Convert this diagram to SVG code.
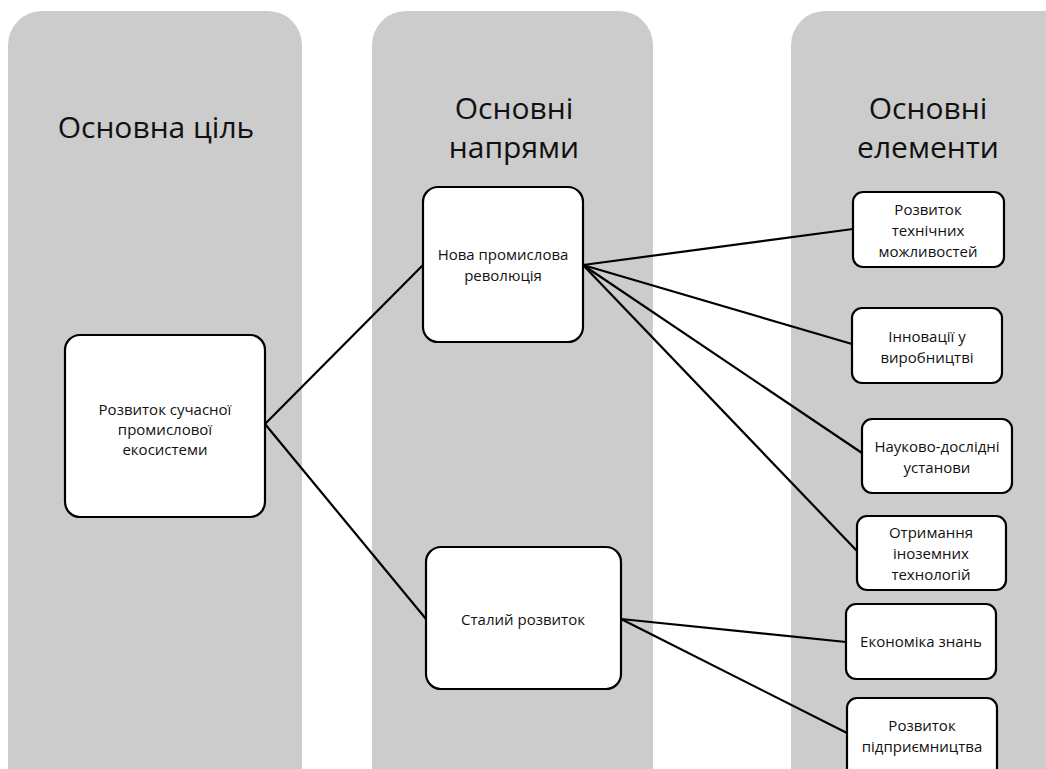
<svg xmlns="http://www.w3.org/2000/svg" width="1046" height="769" viewBox="0 0 1046 769">
<style>
.col{fill:#cccccc;stroke:none}
.hd{font-family:"Open Sans","Noto Sans",sans-serif;font-size:30px;fill:#111;text-anchor:middle}
.box{fill:#ffffff;stroke:#000;stroke-width:2.2}
.t{font-family:"Open Sans","Noto Sans",sans-serif;font-size:15px;fill:#111;text-anchor:middle}
.ln{stroke:#000;stroke-width:2.2;fill:none}
</style>
<rect x="0" y="0" width="1046" height="769" fill="#ffffff"/>
<g id="columns">
<rect class="col" x="8" y="11" width="294" height="820" rx="34"/>
<rect class="col" x="372" y="11" width="281" height="820" rx="34"/>
<rect class="col" x="791" y="11" width="300" height="820" rx="34"/>
<text class="hd" x="156" y="138">Основна ціль</text>
<text class="hd" x="514" y="119">Основні</text>
<text class="hd" x="514" y="158">напрями</text>
<text class="hd" x="928" y="119">Основні</text>
<text class="hd" x="928" y="158">елементи</text>
</g>
<g id="connectors">
<line class="ln" x1="265" y1="424" x2="423" y2="265"/>
<line class="ln" x1="265" y1="424" x2="426" y2="619"/>
<line class="ln" x1="583" y1="265" x2="853" y2="229"/>
<line class="ln" x1="583" y1="265" x2="852" y2="344"/>
<line class="ln" x1="583" y1="265" x2="862" y2="453"/>
<line class="ln" x1="583" y1="265" x2="857" y2="551"/>
<line class="ln" x1="621" y1="619" x2="846" y2="642"/>
<line class="ln" x1="621" y1="619" x2="847" y2="733"/>
</g>
<g id="root">
<rect class="box" x="65" y="335" width="200" height="182" rx="15"/>
<text class="t" x="165" y="415">Розвиток сучасної</text>
<text class="t" x="165" y="435">промислової</text>
<text class="t" x="165" y="455">екосистеми</text>
</g>
<g id="nova">
<rect class="box" x="423" y="187" width="160" height="155" rx="15"/>
<text class="t" x="503" y="260">Нова промислова</text>
<text class="t" x="503" y="281">революція</text>
</g>
<g id="stalyi">
<rect class="box" x="426" y="547" width="195" height="142" rx="15"/>
<text class="t" x="523" y="625">Сталий розвиток</text>
</g>
<g id="tech">
<rect class="box" x="853" y="192" width="151" height="75" rx="10"/>
<text class="t" x="928" y="215">Розвиток</text>
<text class="t" x="928" y="236">технічних</text>
<text class="t" x="928" y="257">можливостей</text>
</g>
<g id="innov">
<rect class="box" x="852" y="308" width="150" height="75" rx="10"/>
<text class="t" x="927" y="342">Інновації у</text>
<text class="t" x="927" y="363">виробництві</text>
</g>
<g id="nauk">
<rect class="box" x="862" y="419" width="150" height="74" rx="10"/>
<text class="t" x="937" y="452">Науково-дослідні</text>
<text class="t" x="937" y="473">установи</text>
</g>
<g id="otrym">
<rect class="box" x="857" y="516" width="149" height="74" rx="10"/>
<text class="t" x="931" y="538">Отримання</text>
<text class="t" x="931" y="559">іноземних</text>
<text class="t" x="931" y="580">технологій</text>
</g>
<g id="econ">
<rect class="box" x="846" y="604" width="150" height="75" rx="10"/>
<text class="t" x="921" y="647">Економіка знань</text>
</g>
<g id="pidpr">
<rect class="box" x="847" y="698" width="150" height="80" rx="10"/>
<text class="t" x="922" y="731">Розвиток</text>
<text class="t" x="922" y="752">підприємництва</text>
</g>
</svg>
